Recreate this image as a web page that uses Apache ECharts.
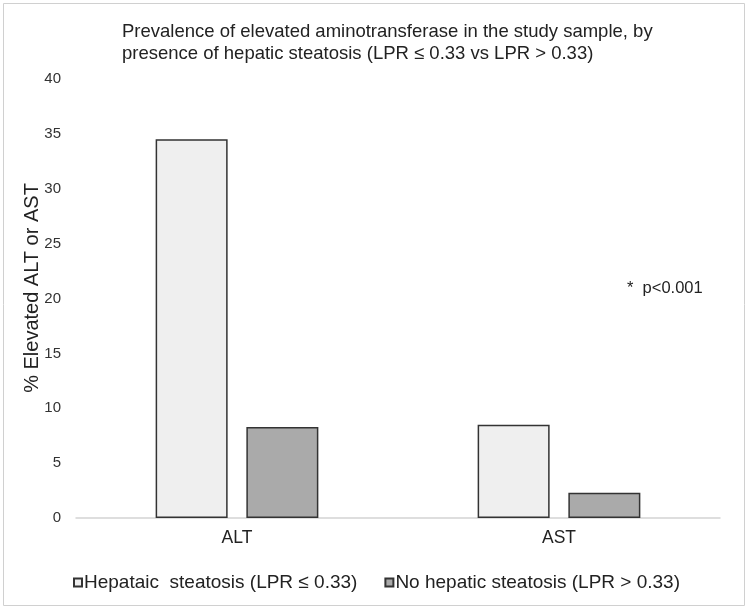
<!DOCTYPE html>
<html>
<head>
<meta charset="utf-8">
<script src="https://cdn.jsdelivr.net/npm/echarts@6/dist/echarts.min.js"></script>
<style>html,body{margin:0;padding:0;background:#fff}#c{width:750px;height:613px}</style>
</head>
<body>
<div id="c"></div>
<script>
const categories = ['ALT', 'AST'];
const seriesNames = ['Hepataic  steatosis (LPR \u2264 0.33)', 'No hepatic steatosis (LPR > 0.33)'];
const steatosisValues = [34.5, 8.5];
const noSteatosisValues = [8.3, 2.3];
const yTicks = [0, 5, 10, 15, 20, 25, 30, 35, 40];
const titleText = 'Prevalence of elevated aminotransferase in the study sample, by\npresence of hepatic steatosis (LPR \u2264 0.33 vs LPR > 0.33)';
const yAxisName = '% Elevated ALT or AST';
const noteText = '*  p<0.001';

const font = 'Liberation Sans, Arial, sans-serif';
const chart = echarts.init(document.getElementById('c'), null, {renderer: 'canvas'});
chart.setOption({
  backgroundColor: '#fff',
  animation: false,
  textStyle: {fontFamily: font},
  title: {
    text: titleText,
    left: 117, top: 16,
    textStyle: {fontSize: 18.5, fontWeight: 'normal', color: '#222', lineHeight: 22, fontFamily: font}
  },
  legend: {
    data: seriesNames,
    left: 68, top: 568,
    itemWidth: 8, itemHeight: 8, itemGap: 27,
    icon: 'rect',
    textStyle: {fontSize: 19, color: '#222', fontFamily: font, padding: [0, 0, 0, -3]}
  },
  grid: {left: 76, right: 30, top: 79, bottom: 95, containLabel: false},
  xAxis: {
    type: 'category',
    data: categories,
    axisLine: {show: true, lineStyle: {color: '#d4d4d4', width: 1.5}},
    axisTick: {show: false},
    axisLabel: {fontSize: 17.5, color: '#222', margin: 11, fontFamily: font}
  },
  yAxis: {
    type: 'value',
    min: yTicks[0], max: yTicks[yTicks.length - 1], interval: 5,
    axisLine: {show: false},
    axisTick: {show: false},
    splitLine: {show: false},
    axisLabel: {fontSize: 15, color: '#333', margin: 15, fontFamily: font}
  },
  series: [
    {
      name: seriesNames[0], type: 'bar', data: steatosisValues,
      barWidth: 72, barGap: '26%',
      itemStyle: {color: '#efefef', borderColor: '#333', borderWidth: 1.5}
    },
    {
      name: seriesNames[1], type: 'bar', data: noSteatosisValues,
      barWidth: 72,
      itemStyle: {color: '#aaaaaa', borderColor: '#333', borderWidth: 1.5}
    }
  ],
  graphic: [
    {type: 'rect', shape: {x: 3.5, y: 3.5, width: 741, height: 602}, style: {fill: 'none', stroke: '#d0d0d0', lineWidth: 1}, silent: true},
    {type: 'text', x: 32, y: 288, rotation: Math.PI / 2,
      style: {text: yAxisName, font: '20px ' + font, fill: '#222', align: 'center', verticalAlign: 'middle'}},
    {type: 'text', left: 627, top: 280, style: {text: noteText, font: '16.5px ' + font, fill: '#222'}}
  ]
});
</script>
</body>
</html>
